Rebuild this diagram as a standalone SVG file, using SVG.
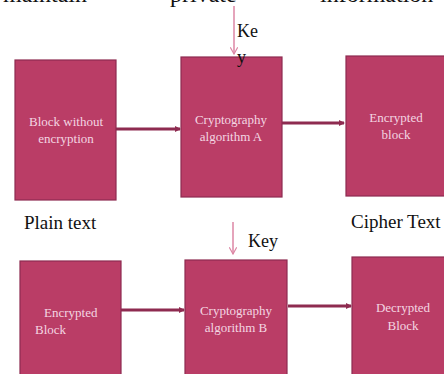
<svg xmlns="http://www.w3.org/2000/svg" width="444" height="374" viewBox="0 0 444 374">
<style>
.box{fill:#ba3d66;stroke:#8e2b50;stroke-width:1.2}
.lbl{font-family:"Liberation Serif",serif;font-size:13px;fill:#f4d6e2;text-anchor:middle}
.cap{font-family:"Liberation Serif",serif;font-size:19px;fill:#111}
.top{font-family:"Liberation Serif",serif;font-size:24px;fill:#111}
.flow{stroke:#8e2b50;stroke-width:3;fill:none}
.key{stroke:#dc86a4;stroke-width:1.5;fill:none}
</style>
<defs>
<marker id="ah" viewBox="0 0 6 6" refX="5" refY="3" markerWidth="2.2" markerHeight="2.6" orient="auto" markerUnits="strokeWidth">
<path d="M0,0 L6,3 L0,6 z" fill="#8e2b50"/>
</marker>
<marker id="kh" viewBox="0 0 10 10" refX="9" refY="5" markerWidth="5" markerHeight="5" orient="auto" markerUnits="strokeWidth">
<path d="M0,0 L9,5 L0,10" fill="none" stroke="#dc86a4" stroke-width="1.6"/>
</marker>
</defs>
<rect width="444" height="374" fill="#fff"/>
<g id="top-text">
<text class="top" x="3" y="2">maintain</text>
<text class="top" x="170" y="2">private</text>
<text class="top" x="320" y="2">information</text>
</g>
<g id="connectors">
<line class="flow" x1="116" y1="129" x2="180" y2="129" marker-end="url(#ah)"/>
<line class="flow" x1="282" y1="123" x2="344" y2="123" marker-end="url(#ah)"/>
<line class="flow" x1="121" y1="310" x2="184" y2="310" marker-end="url(#ah)"/>
<line class="flow" x1="288" y1="306" x2="351" y2="306" marker-end="url(#ah)"/>
<line class="key" x1="234" y1="6" x2="234" y2="54" marker-end="url(#kh)"/>
<line class="key" x1="233" y1="222" x2="233" y2="254" marker-end="url(#kh)"/>
</g>
<g id="plain-block">
<rect class="box" x="15" y="60" width="101" height="140"/>
<text class="lbl" x="66" y="126">Block without</text>
<text class="lbl" x="66" y="143">encryption</text>
</g>
<g id="algo-a">
<rect class="box" x="181" y="57" width="101" height="140"/>
<text class="lbl" x="231" y="124">Cryptography</text>
<text class="lbl" x="231" y="141">algorithm A</text>
</g>
<g id="encrypted-block">
<rect class="box" x="346" y="56" width="102" height="140"/>
<text class="lbl" x="396" y="122">Encrypted</text>
<text class="lbl" x="396" y="139">block</text>
</g>
<g id="plain-text-label">
<text class="cap" x="24" y="229">Plain text</text>
</g>
<g id="cipher-text-label">
<text class="cap" x="351" y="228">Cipher Text</text>
</g>
<g id="encrypted-block-b">
<rect class="box" x="20" y="261" width="101" height="120"/>
<text class="lbl" x="44" y="317" style="text-anchor:start">Encrypted</text>
<text class="lbl" x="35" y="334" style="text-anchor:start">Block</text>
</g>
<g id="algo-b">
<rect class="box" x="185" y="260" width="102" height="120"/>
<text class="lbl" x="236" y="315">Cryptography</text>
<text class="lbl" x="236" y="332">algorithm B</text>
</g>
<g id="decrypted-block">
<rect class="box" x="352" y="257" width="96" height="120"/>
<text class="lbl" x="403" y="312">Decrypted</text>
<text class="lbl" x="403" y="330">Block</text>
</g>
<g id="key-a">
<text class="cap" x="237" y="37" style="font-size:18px">Ke</text>
<text class="cap" x="237" y="63" style="font-size:18px">y</text>
</g>
<g id="key-b">
<text class="cap" x="248" y="247" style="font-size:18px">Key</text>
</g>
</svg>
